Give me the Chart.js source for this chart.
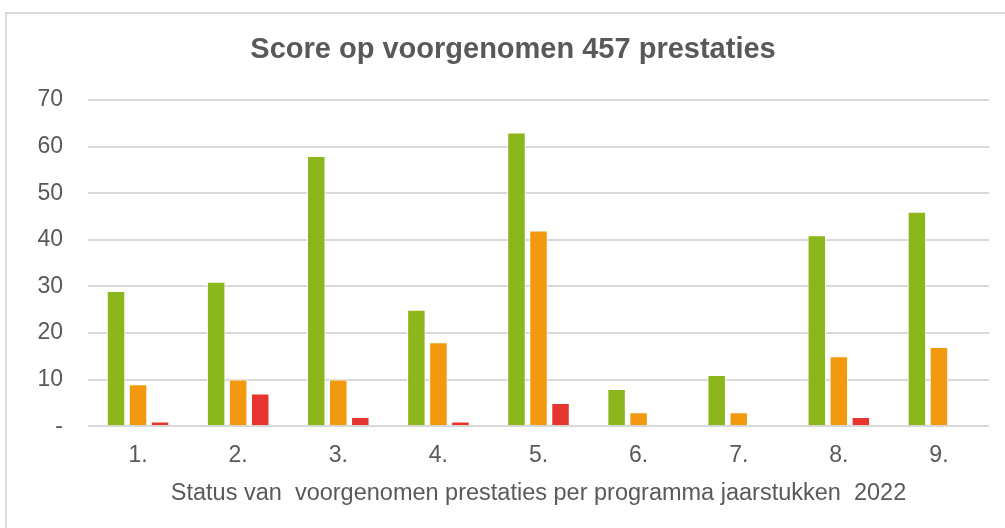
<!DOCTYPE html>
<html><head><meta charset="utf-8">
<script src="https://cdn.jsdelivr.net/npm/chart.js@4"></script>
<style>
html,body{margin:0;padding:0;background:#fff;overflow:hidden}
#frame{position:absolute;left:5px;top:12px;width:1020px;height:540px;border:2px solid #d9d9d9;box-sizing:border-box}
#wrap{position:absolute;left:0;top:0;width:1005px;height:528px}
</style></head><body>
<div id="frame"></div>
<div id="wrap"><canvas id="c" width="1005" height="528"></canvas></div>
<script>
const categories = ['1.','2.','3.','4.','5.','6.','7.','8.','9.'];
const greenValues = [29,31,58,25,63,8,11,41,46];
const orangeValues = [9,10,10,18,42,3,3,15,17];
const redValues = [1,7,2,1,5,0,0,2,0];
const yTicks = [0,10,20,30,40,50,60,70];
const chartTitle = 'Score op voorgenomen 457 prestaties';
const xTitle = 'Status van  voorgenomen prestaties per programma jaarstukken  2022';
const txt = '#595959';
const fam = '"Liberation Sans", Arial, sans-serif';
const titlePlugin = {
  id:'ownTitle',
  afterDraw(chart){
    const ctx = chart.ctx;
    ctx.save();
    ctx.fillStyle = txt;
    ctx.font = 'bold 29px ' + fam;
    ctx.textAlign = 'center';
    ctx.textBaseline = 'middle';
    ctx.fillText(chartTitle, 513, 50);
    ctx.restore();
  }
};
new Chart(document.getElementById('c'), {
  type:'bar',
  data:{labels:categories, datasets:[
    {label:'Groen', data:greenValues, backgroundColor:'#8bb71d', borderColor:'#ffffff', borderWidth:1},
    {label:'Oranje', data:orangeValues, backgroundColor:'#f2990f', borderColor:'#ffffff', borderWidth:1},
    {label:'Rood', data:redValues, backgroundColor:'#e6352e', borderColor:'#ffffff', borderWidth:1}
  ]},
  plugins:[titlePlugin],
  options:{
    responsive:false, animation:false,
    datasets:{bar:{categoryPercentage:0.66, barPercentage:0.84}},
    layout:{padding:{left:0,right:16,top:100,bottom:20}},
    plugins:{
      legend:{display:false}, tooltip:{enabled:false}, title:{display:false}
    },
    scales:{
      x:{grid:{display:false, drawTicks:false}, border:{display:false},
         ticks:{color:txt, font:{family:fam,size:23}, padding:16},
         title:{display:true, text:xTitle, color:txt, font:{family:fam,size:23.5}, padding:{top:-6,bottom:0}}},
      y:{min:0,max:70, afterBuildTicks:(s)=>{s.ticks=yTicks.map(v=>({value:v}));},
         afterFit:(s)=>{s.width=88;},
         grid:{color:'#d9d9d9', lineWidth:2, drawTicks:false}, border:{display:false},
         ticks:{color:txt, font:{family:fam,size:23}, padding:25, callback:(v)=>v===0?'-':v}}
    }
  }
});
</script></body></html>
